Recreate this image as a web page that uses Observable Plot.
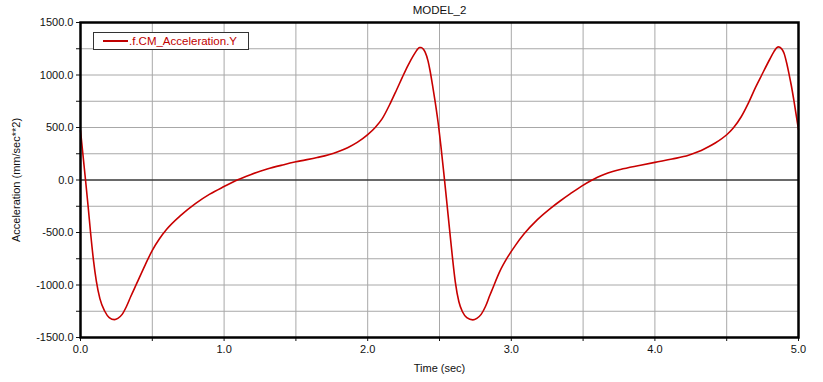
<!DOCTYPE html>
<html>
<head>
<meta charset="utf-8">
<script src="https://cdn.jsdelivr.net/npm/d3@7"></script>
<script src="https://cdn.jsdelivr.net/npm/@observablehq/plot@0.6"></script>
<style>
  body { margin: 0; background: #fff; font-family: "Liberation Sans", Arial, sans-serif; }
  #wrap { position: relative; width: 823px; height: 382px; }
  #legend { position: absolute; left: 93px; top: 32px; width: 156px; height: 18px; border: 1px solid #333; background: #fff; box-sizing: border-box; font-size: 11.5px; color: #c00000; display: flex; align-items: center; }
  #legend .sw { display: inline-block; width: 25px; height: 0; border-top: 2px solid #c00000; margin-left: 9px; margin-right: 1px; }
</style>
</head>
<body>
<div id="wrap"><div id="legend"><span class="sw"></span><span>.f.CM_Acceleration.Y</span></div></div>
<script>
const title = "MODEL_2";
const seriesName = ".f.CM_Acceleration.Y";
const xLabel = "Time (sec)";
const yLabel = "Acceleration (mm/sec**2)";
const time = [
  0, 0.035, 0.053, 0.07, 0.09, 0.11, 0.135, 0.169, 0.2, 0.237,
  0.26, 0.29, 0.32, 0.35, 0.39, 0.45, 0.5, 0.55, 0.6, 0.7, 0.8, 0.9, 1.0, 1.091,
  1.184, 1.3, 1.416, 1.5, 1.648, 1.7, 1.764, 1.81, 1.86, 1.927, 2.0, 2.054, 2.1,
  2.159, 2.2, 2.24, 2.28, 2.32, 2.34, 2.35, 2.361, 2.372, 2.385, 2.4, 2.42, 2.433,
  2.45, 2.468, 2.49, 2.51, 2.53, 2.55, 2.57, 2.59, 2.61, 2.635, 2.66, 2.69, 2.732,
  2.76, 2.79, 2.82, 2.85, 2.868, 2.92, 2.972, 3.03, 3.088, 3.18, 3.273, 3.34, 3.412, 3.49, 3.563,
  3.6, 3.65, 3.7, 3.76, 3.9, 4.0, 4.12, 4.234, 4.3, 4.35, 4.42, 4.5, 4.546, 4.6, 4.65, 4.7,
  4.744, 4.8, 4.83, 4.845, 4.858, 4.87, 4.885, 4.9, 4.92, 4.934, 4.95, 4.97, 5.0
];
const accel = [
  470, 0, -250, -500, -760, -960, -1130, -1250, -1310, -1330,
  -1318, -1280, -1205, -1110, -990, -810, -670, -560, -470, -335, -225, -135, -62, 0,
  51, 105, 146, 173, 214, 230, 255, 278, 308, 358, 432, 503, 582,
  735, 855, 975, 1090, 1190, 1232, 1250, 1262, 1262, 1250, 1218, 1135, 1050,
  915, 760, 550, 320, 65, -200, -470, -735, -970, -1160, -1255, -1310, -1332,
  -1318, -1280, -1205, -1100, -1040, -870, -740, -620, -515, -380, -270, -200, -130, -58, 0,
  26, 55, 78, 100, 140, 168, 200, 235, 268, 300, 352, 431, 495, 600, 730, 880,
  1000, 1150, 1225, 1255, 1268, 1264, 1245, 1205, 1100, 1010, 900, 740, 480
];
const xTicks = [0, 0.5, 1, 1.5, 2, 2.5, 3, 3.5, 4, 4.5, 5];
const yTicks = [-1500, -1250, -1000, -750, -500, -250, 0, 250, 500, 750, 1000, 1250, 1500];

const data = time.map((t, i) => ({t, v: accel[i]}));

const chart = Plot.plot({
  width: 823,
  height: 382,
  marginLeft: 80,
  marginRight: 25,
  marginTop: 22,
  marginBottom: 45,
  style: {fontFamily: "Liberation Sans, Arial, sans-serif", fontSize: "11px", color: "#111", background: "white"},
  x: {domain: [0, 5]},
  y: {domain: [-1500, 1500]},
  marks: [
    Plot.gridX(xTicks, {stroke: "#a8a8a8", strokeOpacity: 1}),
    Plot.gridY(yTicks, {stroke: "#a8a8a8", strokeOpacity: 1}),
    Plot.ruleY([0], {stroke: "#000", strokeWidth: 1}),
    Plot.axisX(xTicks, {tickSize: 4, tickPadding: 4, tickFormat: d => Number.isInteger(d) ? d.toFixed(1) : "", label: xLabel, labelAnchor: "center", labelArrow: "none", labelOffset: 34, fontSize: 11}),
    Plot.axisY(yTicks, {tickSize: 4, tickPadding: 3, tickFormat: d => d % 500 === 0 ? d.toFixed(1) : "", label: yLabel, labelAnchor: "center", labelArrow: "none", labelOffset: 68, fontSize: 11}),
    Plot.line(data, {x: "t", y: "v", stroke: "#c80000", strokeWidth: 1.6, curve: "monotone-x"}),
    Plot.frame({stroke: "#000", strokeWidth: 2.5}),
    Plot.text([title], {frameAnchor: "top", lineAnchor: "middle", dy: -12, fontSize: 11.5, fill: "#111"})
  ]
});
document.getElementById("wrap").prepend(chart);
</script>
</body>
</html>
